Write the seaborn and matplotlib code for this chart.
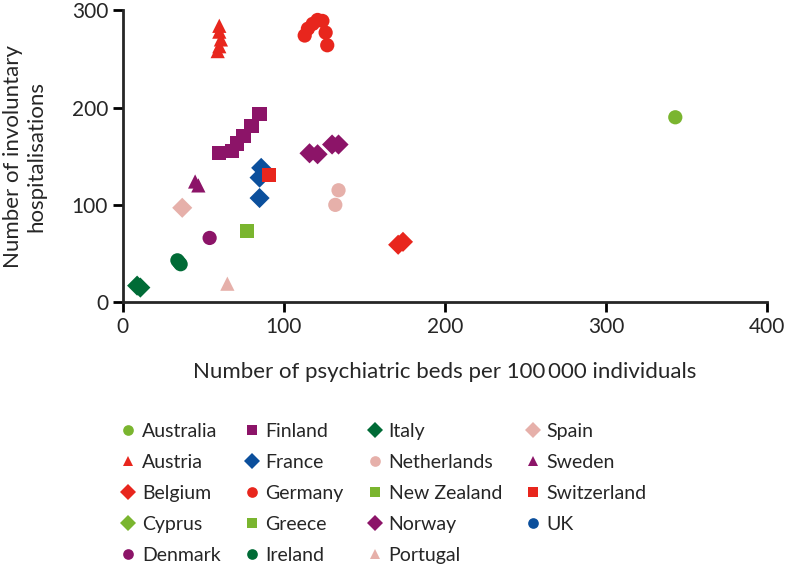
import pandas as pd
import matplotlib.pyplot as plt
import seaborn as sns

# legend order
countries = ["Australia", "Austria", "Belgium", "Cyprus", "Denmark",
             "Finland", "France", "Germany", "Greece", "Ireland",
             "Italy", "Netherlands", "New Zealand", "Norway", "Portugal",
             "Spain", "Sweden", "Switzerland", "UK"]

# points (country, beds per 100 000, involuntary hospitalisations)
point_country = (["Australia"]
                 + ["Austria"] * 5
                 + ["Belgium"] * 2
                 + ["Denmark"]
                 + ["Finland"] * 6
                 + ["France"] * 3
                 + ["Germany"] * 7
                 + ["Ireland"] * 3
                 + ["Italy"] * 2
                 + ["Netherlands"] * 2
                 + ["New Zealand"]
                 + ["Norway"] * 4
                 + ["Portugal"]
                 + ["Spain"]
                 + ["Sweden"] * 2
                 + ["Switzerland"])
beds = ([343]
        + [60, 60, 61, 60, 59]
        + [171, 174]
        + [54]
        + [60, 68, 71, 75, 80, 85]
        + [86, 85, 85]
        + [113, 115, 118, 121, 124, 126, 127]
        + [34, 35, 36]
        + [9, 11]
        + [134, 132]
        + [77]
        + [116, 121, 130, 134]
        + [65]
        + [37]
        + [45, 47]
        + [91])
hosp = ([190]
        + [284, 278, 270, 263, 258]
        + [59, 62]
        + [66]
        + [153, 155, 163, 171, 181, 193]
        + [138, 128, 107]
        + [274, 281, 286, 290, 289, 277, 264]
        + [43, 41, 39]
        + [17, 15]
        + [115, 100]
        + [73]
        + [153, 152, 162, 162]
        + [19]
        + [97]
        + [124, 120]
        + [131])

light_green = "#7ab52f"
red = "#e8261d"
purple = "#8c1468"
blue = "#0b4f9c"
dark_green = "#006b36"
pink = "#e6b0aa"

colours = {"Australia": light_green, "Austria": red, "Belgium": red,
           "Cyprus": light_green, "Denmark": purple, "Finland": purple,
           "France": blue, "Germany": red, "Greece": light_green,
           "Ireland": dark_green, "Italy": dark_green, "Netherlands": pink,
           "New Zealand": light_green, "Norway": purple, "Portugal": pink,
           "Spain": pink, "Sweden": purple, "Switzerland": red, "UK": blue}
markers = {"Australia": "o", "Austria": "^", "Belgium": "D", "Cyprus": "D",
           "Denmark": "o", "Finland": "s", "France": "D", "Germany": "o",
           "Greece": "s", "Ireland": "o", "Italy": "D", "Netherlands": "o",
           "New Zealand": "s", "Norway": "D", "Portugal": "^", "Spain": "D",
           "Sweden": "^", "Switzerland": "s", "UK": "o"}

df = pd.DataFrame({"country": point_country, "beds": beds, "hosp": hosp})

sns.set_style("ticks")
plt.rcParams["font.family"] = ["Lato", "DejaVu Sans"]

fig = plt.figure(figsize=(7.86, 5.68), dpi=100)
ax = fig.add_axes([0.156, 0.468, 0.82, 0.514])

sns.scatterplot(data=df, x="beds", y="hosp", hue="country", style="country",
                hue_order=countries, style_order=countries,
                palette=colours, markers=markers, s=105, linewidth=0,
                ax=ax, clip_on=False)

ax.set_xlim(0, 400)
ax.set_ylim(0, 300)
ax.set_xticks([0, 100, 200, 300, 400])
ax.set_yticks([0, 100, 200, 300])
ax.set_xlabel("Number of psychiatric beds per 100\u2009000 individuals", fontsize=16, labelpad=18)
ax.set_ylabel("Number of involuntary\nhospitalisations", fontsize=16, labelpad=18)
ax.tick_params(labelsize=15, width=2, length=7, color="black")
for side in ["left", "bottom"]:
    ax.spines[side].set_linewidth(2)
sns.despine(ax=ax)

# legend below the plot, 4 columns
sns.move_legend(ax, "upper left", bbox_to_anchor=(0.156, 0.255),
                bbox_transform=fig.transFigure, ncol=4,
                frameon=False, title=None, fontsize=14, handlelength=0.6,
                handletextpad=0.4, columnspacing=1.3, labelspacing=0.72,
                markerscale=0.75, borderpad=0, borderaxespad=0)

plt.savefig("out.png", dpi=100)
plt.close()
